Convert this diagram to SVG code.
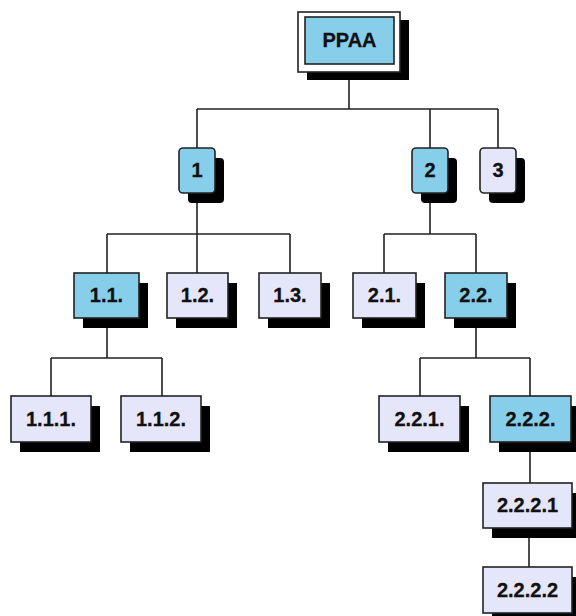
<svg xmlns="http://www.w3.org/2000/svg" width="576" height="616" viewBox="0 0 576 616">
  <style>
    .shadow { fill: #000; }
    .box { stroke: #222; stroke-width: 1.6; }
    .hi { fill: #87CEEB; }
    .lo { fill: #E6E6FA; }
    .frame { fill: #fff; stroke: #222; stroke-width: 1.6; }
    .lbl { font-family: "Liberation Sans", Arial, sans-serif; font-weight: bold; font-size: 20px; fill: #111; stroke: #111; stroke-width: 0.3; text-anchor: middle; }
    .wire { fill: none; stroke: #222; stroke-width: 1.6; }
  </style>
  <rect width="576" height="616" fill="#fff"/>

  <!-- connectors -->
  <g id="connectors" class="wire">
    <path d="M349 80 V109 M197 109 H498 M197 109 V148 M430 109 V148 M498 109 V148"/>
    <path d="M197 193 V234 M107 234 H290 M107 234 V273 M197 234 V273 M290 234 V273"/>
    <path d="M430 193 V234 M384 234 H476 M384 234 V273 M476 234 V273"/>
    <path d="M107 318 V358 M51 358 H162 M51 358 V396 M162 358 V396"/>
    <path d="M476 318 V358 M420 358 H530 M420 358 V396 M530 358 V396"/>
    <path d="M530 442 V483 M529 528 V567"/>
  </g>

  <!-- root -->
  <g id="node-ppaa">
    <rect class="shadow" x="307" y="20" width="102" height="60"/>
    <rect class="frame" x="298" y="12" width="102" height="60"/>
    <rect class="box hi" x="305" y="17" width="89" height="47"/>
    <text class="lbl" x="349.5" y="47">PPAA</text>
  </g>

  <!-- level 1 -->
  <g id="node-1">
    <rect class="shadow" x="188" y="158" width="36" height="45" rx="4"/>
    <rect class="box hi" x="179" y="148" width="36" height="45" rx="4"/>
    <text class="lbl" x="197" y="177">1</text>
  </g>
  <g id="node-2">
    <rect class="shadow" x="421" y="158" width="36" height="45" rx="4"/>
    <rect class="box hi" x="412" y="148" width="36" height="45" rx="4"/>
    <text class="lbl" x="430" y="177">2</text>
  </g>
  <g id="node-3">
    <rect class="shadow" x="489" y="158" width="36" height="45" rx="4"/>
    <rect class="box lo" x="480" y="148" width="36" height="45" rx="4"/>
    <text class="lbl" x="498" y="177">3</text>
  </g>

  <!-- level 2 -->
  <g id="node-1-1">
    <rect class="shadow" x="83" y="283" width="65" height="45"/>
    <rect class="box hi" x="74" y="273" width="65" height="45"/>
    <text class="lbl" x="106.5" y="302">1.1.</text>
  </g>
  <g id="node-1-2">
    <rect class="shadow" x="176" y="283" width="61" height="45"/>
    <rect class="box lo" x="167" y="273" width="61" height="45"/>
    <text class="lbl" x="197.5" y="302">1.2.</text>
  </g>
  <g id="node-1-3">
    <rect class="shadow" x="268" y="283" width="62" height="45"/>
    <rect class="box lo" x="259" y="273" width="62" height="45"/>
    <text class="lbl" x="290" y="302">1.3.</text>
  </g>
  <g id="node-2-1">
    <rect class="shadow" x="362" y="283" width="63" height="45"/>
    <rect class="box lo" x="353" y="273" width="63" height="45"/>
    <text class="lbl" x="384.5" y="302">2.1.</text>
  </g>
  <g id="node-2-2">
    <rect class="shadow" x="454" y="283" width="62" height="45"/>
    <rect class="box hi" x="445" y="273" width="62" height="45"/>
    <text class="lbl" x="476" y="302">2.2.</text>
  </g>

  <!-- level 3 -->
  <g id="node-1-1-1">
    <rect class="shadow" x="20" y="406" width="80" height="46"/>
    <rect class="box lo" x="11" y="396" width="80" height="46"/>
    <text class="lbl" x="51" y="426">1.1.1.</text>
  </g>
  <g id="node-1-1-2">
    <rect class="shadow" x="130" y="406" width="80" height="46"/>
    <rect class="box lo" x="121" y="396" width="80" height="46"/>
    <text class="lbl" x="161" y="426">1.1.2.</text>
  </g>
  <g id="node-2-2-1">
    <rect class="shadow" x="388" y="406" width="81" height="46"/>
    <rect class="box lo" x="379" y="396" width="81" height="46"/>
    <text class="lbl" x="419.5" y="426">2.2.1.</text>
  </g>
  <g id="node-2-2-2">
    <rect class="shadow" x="499" y="406" width="81" height="46"/>
    <rect class="box hi" x="490" y="396" width="81" height="46"/>
    <text class="lbl" x="530.5" y="426">2.2.2.</text>
  </g>

  <!-- level 4 -->
  <g id="node-2-2-2-1">
    <rect class="shadow" x="492" y="493" width="89" height="45"/>
    <rect class="box lo" x="483" y="483" width="89" height="45"/>
    <text class="lbl" x="527.5" y="512">2.2.2.1</text>
  </g>
  <g id="node-2-2-2-2">
    <rect class="shadow" x="492" y="577" width="89" height="46"/>
    <rect class="box lo" x="483" y="567" width="89" height="46"/>
    <text class="lbl" x="527.5" y="597">2.2.2.2</text>
  </g>
</svg>
